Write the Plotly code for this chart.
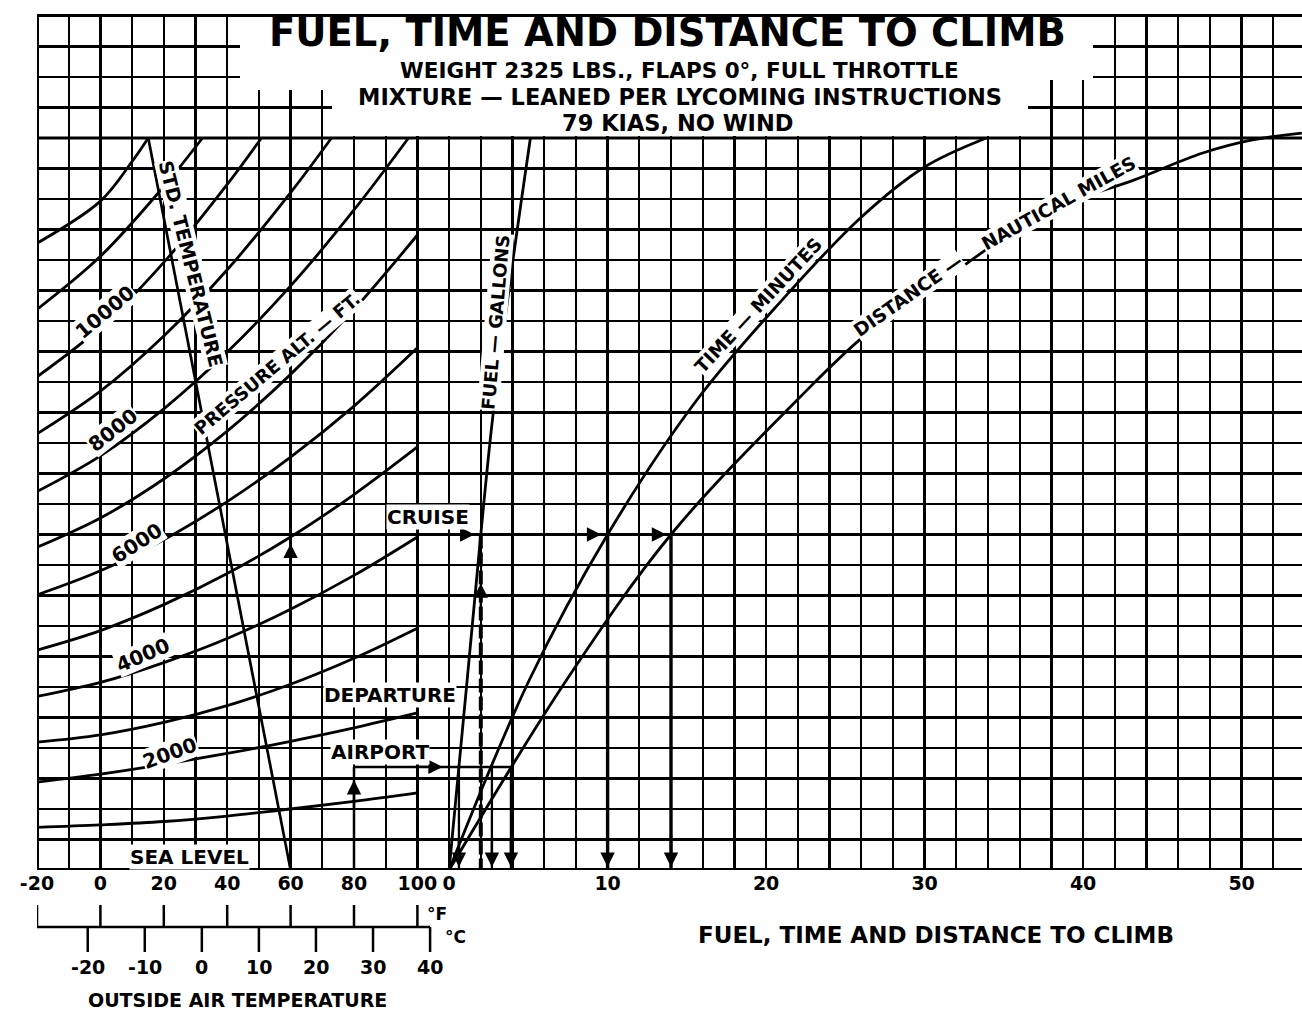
import plotly.graph_objects as go

# ---------------- data ----------------
# bottom scales
oat_ticks_f = [-20, 0, 20, 40, 60, 80, 100]          # deg F
oat_ticks_c = [-20, -10, 0, 10, 20, 30, 40]          # deg C
climb_ticks = [0, 10, 20, 30, 40, 50]                # gal / min / nm

# pressure-altitude curves: OAT (deg F) -> chart row (grid units above base line)
temp_f = [-20, 0, 20, 40, 60, 80, 100]
pa_a = [1.40, 1.48, 1.59, 1.77, 2.00, 2.25, 2.53]
pa_b = [2.88, 3.14, 3.46, 3.82, 4.22, 4.66, 5.15]
pa_c = [4.19, 4.43, 4.84, 5.39, 6.09, 6.94, 7.93]
pa_d = [5.69, 6.15, 6.80, 7.59, 8.55, 9.66, 10.92]
pa_e = [7.21, 7.85, 8.70, 9.72, 10.92, 12.31, 13.87]
pa_f = [9.02, 9.81, 10.83, 12.08, 13.54, 15.21, 17.12]
pa_g = [10.58, 11.54, 12.82, 14.39, 16.25, 18.38, 20.82]
pa_h_f = [-20, 0, 20, 40, 60, 80, 97.2]
pa_h = [12.41, 13.58, 15.12, 16.98, 19.15, 21.64, 24.0]
pa_i_f = [-20, 0, 20, 40, 60, 72.9]
pa_i = [14.30, 15.70, 17.51, 19.68, 22.21, 24.0]
pa_j_f = [-20, 0, 20, 40, 50.8]
pa_j = [16.17, 17.79, 19.92, 22.48, 24.0]
pa_k_f = [-20, 0, 20, 32.2]
pa_k = [18.38, 20.12, 22.41, 24.0]
pa_l_f = [-20, 0, 10, 15.1]
pa_l = [20.55, 21.93, 23.23, 24.0]

# standard temperature line
std_temp_f = [15.1, 60]
std_temp_r = [24.0, 0.0]

# right panel curves
fuel_gal = [0, 1.14, 2.0, 2.72, 3.9, 5.13]
fuel_r = [0, 6.23, 11.0, 14.69, 19.5, 24.0]
time_min = [0, 5.06, 10.0, 15.63, 20.89, 25.95, 30.0, 33.9]
time_r = [0, 6.23, 11.0, 15.41, 18.62, 21.38, 23.05, 24.0]
dist_nm = [0, 7.41, 14.0, 21.96, 26.4, 30.6, 34.8, 39.05, 43.2, 47.5, 50.6, 53.8]
dist_r = [0, 6.23, 11.0, 15.41, 17.6, 19.1, 20.66, 21.87, 22.62, 23.5, 23.93, 24.16]

# worked example
dep_oat_f, dep_r = 80, 3.38
dep_fuel, dep_time, dep_dist = 0.62, 2.7, 3.9
cru_oat_f, cru_r = 60, 11.0
cru_fuel, cru_time, cru_dist = 2.0, 10.0, 14.0

# ---------------- geometry ----------------
W, H = 1302, 1013
L, R, T, B = 37, 0, 14, 143
X0 = -20              # deg F at left frame
PXF = 3.17            # px per deg F
ROW = 30.5            # px per grid row
PB = H - B            # plot bottom px
PH = H - T - B        # plot height px
xmax = X0 + (W - L - R) / PXF
ymax = PH / ROW
F_ZERO = 110          # deg-F position of the right scale's zero
F_PER_UNIT = 5        # deg-F per right-scale unit
x2range = [(X0 - F_ZERO) / F_PER_UNIT, (xmax - F_ZERO) / F_PER_UNIT]
TOPROW = 24.0


def fx(px):
    return X0 + (px - L) / PXF


def fy(py):
    return (PB - py) / ROW


def py_paper(py):
    return (PB - py) / PH


def px_paper(px):
    return (px - L) / (W - L - R)


FONT = "DejaVu Sans"
fig = go.Figure()


def curve(xs, ys, axis='x', width=2.8, dash=None):
    fig.add_trace(go.Scatter(
        x=xs, y=ys, mode='lines', xaxis=axis, yaxis='y',
        line=dict(color='black', width=width, shape='spline', dash=dash),
        hoverinfo='skip', showlegend=False))


def seg(xs, ys, axis='x', width=2.5, dash=None):
    fig.add_trace(go.Scatter(
        x=xs, y=ys, mode='lines', xaxis=axis, yaxis='y',
        line=dict(color='black', width=width, dash=dash),
        hoverinfo='skip', showlegend=False))


for xs, ys in [(temp_f, pa_a), (temp_f, pa_b), (temp_f, pa_c),
               (temp_f, pa_d), (temp_f, pa_e), (temp_f, pa_f),
               (temp_f, pa_g), (pa_h_f, pa_h), (pa_i_f, pa_i),
               (pa_j_f, pa_j), (pa_k_f, pa_k), (pa_l_f, pa_l)]:
    curve(xs, ys)

seg(std_temp_f, std_temp_r, width=2.7)
curve(fuel_gal, fuel_r, axis='x2')
curve(time_min, time_r, axis='x2')
curve(dist_nm, dist_r, axis='x2')

# example paths
seg([dep_oat_f, dep_oat_f], [0, dep_r])
seg([dep_oat_f, F_ZERO], [dep_r, dep_r])
seg([0, dep_dist], [dep_r, dep_r], axis='x2')
for v in (dep_fuel, dep_time, dep_dist):
    seg([v, v], [dep_r, 0], axis='x2', width=2.3)
seg([cru_oat_f, cru_oat_f], [0, cru_r])
seg([cru_oat_f, F_ZERO], [cru_r, cru_r], width=2.7)
seg([0, cru_dist], [cru_r, cru_r], axis='x2', width=2.7)
seg([cru_fuel, cru_fuel], [cru_r, 0], axis='x2', width=4, dash='14px,4px')
seg([cru_time, cru_time], [cru_r, 0], axis='x2', width=3.4)
seg([cru_dist, cru_dist], [cru_r, 0], axis='x2', width=3.4)


def arrow(xh, yh, xt, yt, ref='x'):
    fig.add_annotation(x=xh, y=yh, ax=xt, ay=yt, xref=ref, yref='y',
                       axref=ref, ayref='y', text='', showarrow=True,
                       arrowhead=2, arrowsize=1.2, arrowwidth=2.4,
                       arrowcolor='black', standoff=0)


arrow(dep_oat_f, 2.95, dep_oat_f, 2.0)
arrow(108, dep_r, 100, dep_r)
for v in (dep_fuel, dep_time, dep_dist):
    arrow(v, 0.1, v, 1.0, 'x2')
arrow(cru_oat_f, 10.7, cru_oat_f, 9.6)
for v in (1.6, 9.6, 13.7):
    arrow(v, cru_r, v - 0.8, cru_r, 'x2')
arrow(cru_fuel, 9.4, cru_fuel, 8.4, 'x2')
arrow(cru_time, 0.1, cru_time, 1.2, 'x2')
arrow(cru_dist, 0.1, cru_dist, 1.2, 'x2')

# ---------------- frame, header blank areas, bottom bracket ----------------
shapes = []
# white blanks of the title block (above gridlines, below traces)
for (xa, xb, ya, yb) in [(240, 1093, 80, 17), (240, 332, 90, 78), (332, 1028, 136, 78)]:
    shapes.append(dict(type='rect', xref='x', yref='y', x0=fx(xa), x1=fx(xb),
                       y0=fy(ya), y1=fy(yb), fillcolor='white',
                       line=dict(width=0), layer='between'))
# frame
shapes.append(dict(type='line', xref='x', yref='y', x0=X0, x1=xmax, y0=0, y1=0,
                   line=dict(color='black', width=4)))
shapes.append(dict(type='line', xref='x', yref='y', x0=X0, x1=xmax, y0=ymax, y1=ymax,
                   line=dict(color='black', width=4)))
shapes.append(dict(type='line', xref='x', yref='y', x0=X0, x1=X0, y0=0, y1=ymax,
                   line=dict(color='black', width=4)))
shapes.append(dict(type='line', xref='x', yref='y', x0=X0, x1=xmax, y0=TOPROW, y1=TOPROW,
                   line=dict(color='black', width=3)))

# OAT bracket below the plot
yb_line = py_paper(927)
c_to_f = [c * 9 / 5 + 32 for c in oat_ticks_c]
shapes.append(dict(type='line', xref='x', yref='paper', x0=X0, x1=c_to_f[-1],
                   y0=yb_line, y1=yb_line, line=dict(color='black', width=2.5)))
for f in oat_ticks_f:
    shapes.append(dict(type='line', xref='x', yref='paper', x0=f, x1=f,
                       y0=yb_line, y1=py_paper(905), line=dict(color='black', width=2.5)))
for f in c_to_f:
    shapes.append(dict(type='line', xref='x', yref='paper', x0=f, x1=f,
                       y0=yb_line, y1=py_paper(952), line=dict(color='black', width=2.5)))

# ---------------- text ----------------
def txt(text, x, y, size, angle=0, xref='x', yref='y', bg='white', xanchor='center'):
    fig.add_annotation(x=x, y=y, xref=xref, yref=yref, text='<b>' + text + '</b>',
                       showarrow=False, textangle=angle, bgcolor=bg, borderpad=0,
                       xanchor=xanchor, yanchor='middle',
                       font=dict(family=FONT, size=size, color='black'))


# title block
txt('FUEL, TIME AND DISTANCE TO CLIMB', px_paper(667), py_paper(33), 38.5, xref='paper', yref='paper', bg=None)
txt('WEIGHT 2325 LBS., FLAPS 0°, FULL THROTTLE', px_paper(680), py_paper(71), 21.5, xref='paper', yref='paper', bg=None)
txt('MIXTURE — LEANED PER LYCOMING INSTRUCTIONS', px_paper(680), py_paper(97), 22.5, xref='paper', yref='paper', bg=None)
txt('79 KIAS, NO WIND', px_paper(677), py_paper(123), 22.5, xref='paper', yref='paper', bg=None)

# curve labels
txt('10000', fx(105), fy(312), 20, -40)
txt('8000', fx(113), fy(430), 20, -38)
txt('6000', fx(137), fy(543), 20, -33)
txt('4000', fx(143), fy(655), 20, -23)
txt('2000', fx(170), fy(753), 20, -20)
txt('SEA LEVEL', fx(189), fy(857), 20)
txt('PRESSURE ALT. — FT.', fx(277), fy(363), 18, -40)
txt('STD. TEMPERATURE', fx(191), fy(264), 19, 76)
txt('FUEL — GALLONS', fx(495), fy(322), 18, -85)
txt('TIME — MINUTES', fx(758), fy(305), 18.5, -47)
txt('DISTANCE —', fx(908), fy(295), 18.5, -35)
txt('NAUTICAL MILES', fx(1058), fy(203), 18.5, -29)
txt('CRUISE', fx(428), fy(517), 20)
txt('DEPARTURE', fx(390), fy(695), 20)
txt('AIRPORT', fx(380), fy(752), 20)

# below plot
for c, f in zip(oat_ticks_c, c_to_f):
    txt(str(c), f, py_paper(967), 19, yref='paper', bg=None)
txt('°F', fx(437), py_paper(914), 17, yref='paper', bg=None)
txt('°C', fx(455), py_paper(937), 17, yref='paper', bg=None)
txt('OUTSIDE AIR TEMPERATURE', fx(237), py_paper(1000), 19, yref='paper', bg=None)
txt('FUEL, TIME AND DISTANCE TO CLIMB', fx(936), py_paper(935), 23, yref='paper', bg=None)

fig.update_layout(
    width=W, height=H, margin=dict(l=L, r=R, t=T, b=B),
    paper_bgcolor='white', plot_bgcolor='white', showlegend=False,
    shapes=shapes,
    xaxis=dict(range=[X0, xmax], showgrid=False, zeroline=False, showline=False,
               ticks='', tickmode='array', tickvals=oat_ticks_f,
               ticktext=['<b>%d</b>' % v for v in oat_ticks_f],
               tickfont=dict(family=FONT, size=19, color='black'),
               minor=dict(tick0=0, dtick=10, showgrid=True, gridcolor='black', gridwidth=2.3),
               fixedrange=True),
    xaxis2=dict(range=x2range, overlaying='x', side='bottom', anchor='y',
                showgrid=False, zeroline=False, showline=False, ticks='',
                tickmode='array', tickvals=climb_ticks,
                ticktext=['<b>%d</b>' % v for v in climb_ticks],
                tickfont=dict(family=FONT, size=19, color='black'),
                fixedrange=True),
    yaxis=dict(range=[0, ymax], showgrid=True, gridcolor='black', gridwidth=2.3,
               tick0=0, dtick=1, zeroline=False, showline=False,
               showticklabels=False, ticks='', fixedrange=True),
)

fig.write_html("out.html", config={'displayModeBar': False, 'staticPlot': True},
               post_script="document.body.style.margin='0';")
